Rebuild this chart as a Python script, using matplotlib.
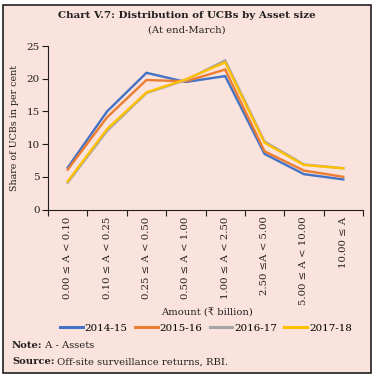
import matplotlib
matplotlib.use("Agg")
import matplotlib.pyplot as plt
from matplotlib.patches import Rectangle
from matplotlib.lines import Line2D

categories = ["0.00 \u2264 A < 0.10", "0.10 \u2264 A < 0.25", "0.25 \u2264 A < 0.50",
              "0.50 \u2264 A < 1.00", "1.00 \u2264 A < 2.50", "2.50 \u2264A < 5.00",
              "5.00 \u2264 A < 10.00", "10.00 \u2264 A"]
s2014_15 = [6.4, 15.0, 20.9, 19.5, 20.4, 8.5, 5.4, 4.6]
s2015_16 = [6.1, 14.1, 19.8, 19.6, 21.4, 8.9, 5.95, 5.0]
s2016_17 = [4.1, 12.0, 17.8, 19.8, 22.8, 10.4, 6.9, 6.3]
s2017_18 = [4.3, 12.3, 17.9, 19.9, 22.5, 10.2, 6.8, 6.3]
series_names = ["2014-15", "2015-16", "2016-17", "2017-18"]
yticks = [0, 5, 10, 15, 20, 25]

colors = ["#4472C4", "#ED7D31", "#A5A5A5", "#FFC000"]
bg = "#F9E3DC"
dark = "#231F20"
FAM = ["DejaVu Serif", "DejaVu Sans"]
plt.rcParams['font.family'] = FAM

W, H = 375, 379
fig = plt.figure(figsize=(W / 100, H / 100), dpi=100)
fig.patch.set_facecolor("white")
fig.patches.append(Rectangle((3 / W, 1 - 373 / H), 368 / W, 368 / H, transform=fig.transFigure,
                             facecolor=bg, edgecolor=dark, linewidth=1.2, zorder=-10))

ax = fig.add_axes([48 / W, 1 - 209.5 / H, 315 / W, 163.5 / H])
ax.set_facecolor("none")
x = list(range(1, len(categories) + 1))
for vals, c, name in zip([s2014_15, s2015_16, s2016_17, s2017_18], colors, series_names):
    ax.plot(x, vals, color=c, lw=1.7, label=name, solid_joinstyle="miter")

ax.set_xlim(0.5, len(categories) + 0.5)
ax.set_ylim(0, 25)
ax.set_yticks(yticks)
ax.set_yticklabels([str(v) for v in yticks], fontsize=7.5, color=dark)
ax.set_xticks(x)
ax.set_xticklabels(categories, rotation=90, fontsize=7.3, color=dark, va="top", ha="center")
ax.set_xticks([i + 0.5 for i in range(0, len(categories) + 1)], minor=True)
ax.tick_params(axis="x", which="major", length=0, pad=5)
ax.tick_params(axis="x", which="minor", length=4, width=0.8, color=dark, direction="out")
ax.tick_params(axis="y", length=4, width=0.8, color=dark, direction="out", pad=2)
for s in ["top", "right"]:
    ax.spines[s].set_visible(False)
for s in ["left", "bottom"]:
    ax.spines[s].set_color(dark)
    ax.spines[s].set_linewidth(0.8)

fig.text(15 / W, 1 - 128 / H, "Share of UCBs in per cent", rotation=90, ha="center", va="center",
         fontsize=6.8, color=dark)
fig.text(187 / W, 1 - 16 / H, "Chart V.7: Distribution of UCBs by Asset size", ha="center", va="center",
         fontsize=7.4, fontweight="bold", color=dark)
fig.text(187 / W, 1 - 30 / H, "(At end-March)", ha="center", va="center", fontsize=7.2, color=dark)
fig.text(207 / W, 1 - 313 / H, "Amount (\u20b9 billion)", ha="center", va="center", fontsize=7.2, color=dark)

handles = [Line2D([], [], color=c, lw=2.2) for c in colors]
fig.legend(handles, series_names, loc="center", bbox_to_anchor=(206 / W, 1 - 328 / H), ncol=4,
           frameon=False, fontsize=7.4, handlelength=2.2, handletextpad=0.2, columnspacing=0.7,
           borderaxespad=0, borderpad=0)

fig.canvas.draw()
r = fig.canvas.get_renderer()
for yy, bold, rest in [(346, "Note:", " A - Assets"), (362, "Source:", " Off-site surveillance returns, RBI.")]:
    t = fig.text(12 / W, 1 - yy / H, bold, ha="left", va="center", fontsize=7.2, fontweight="bold", color=dark)
    bb = t.get_window_extent(r)
    fig.text(bb.x1 / fig.bbox.width, 1 - yy / H, rest, ha="left", va="center", fontsize=7.2, color=dark)

fig.savefig("out.png", dpi=100, facecolor="white")
